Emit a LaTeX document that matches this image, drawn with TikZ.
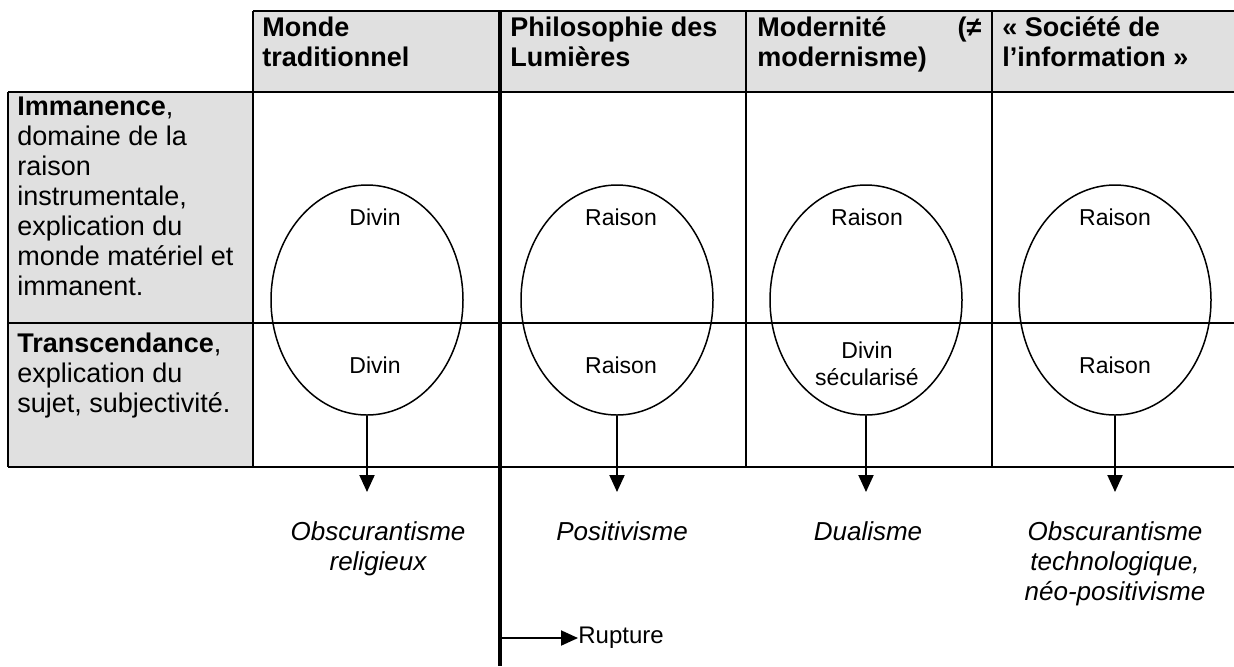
\documentclass[tikz,border=0pt]{standalone}
\usepackage{fontspec}
\setmainfont{Liberation Sans}
\usetikzlibrary{shapes.geometric,arrows.meta}
\definecolor{cellgray}{RGB}{224,224,224}
\tikzset{
  rule/.style={line width=1pt},
  bigrule/.style={line width=2.3pt},
  bubble/.style={draw, ellipse, line width=0.75pt, minimum width=96pt, minimum height=115pt, inner sep=0pt},
  arr/.style={line width=1pt, -{Triangle[width=7.5pt,length=8.5pt]}},
  headtxt/.style={anchor=base west, inner sep=0pt, align=left, font=\fontsize{13.5}{15}\selectfont\bfseries},
  rowtxt/.style={anchor=base west, inner sep=0pt, align=left, font=\fontsize{13.5}{15}\selectfont},
  eltxt/.style={anchor=base, inner sep=0pt, align=center, font=\fontsize{11.5}{13.5}\selectfont},
  outtxt/.style={anchor=base, inner sep=0pt, align=center, font=\fontsize{13}{15}\selectfont\itshape},
}
\begin{document}
\begin{tikzpicture}[x=0.5pt,y=-0.5pt]
\useasboundingbox (0,0) rectangle (1234,666);
% fills
\fill[cellgray] (253,11) rectangle (1234,92);
\fill[cellgray] (8,92) rectangle (253,467);
% table rules
\draw[rule] (253,11) -- (1234,11);
\draw[rule] (8,92) -- (1234,92);
\draw[rule] (8,323) -- (1234,323);
\draw[rule] (8,467) -- (1234,467);
\draw[rule] (8,92) -- (8,467);
\draw[rule] (253,11) -- (253,467);
\draw[rule] (746,11) -- (746,467);
\draw[rule] (992,11) -- (992,467);
\draw[bigrule] (500,11) -- (500,666);
% headers
\node[headtxt] (h1) at (262,66) {Monde\\traditionnel};
\node[headtxt] (h2) at (510,66) {Philosophie des\\Lumières};
\node[headtxt, text width=112pt] (h3) at (757,36) {Modernité\hfill(≠\\modernisme)};
\node[headtxt] (h4) at (1002,66) {« Société de\\l’information »};
% row headers
\node[rowtxt] (r1) at (17,295) {\textbf{Immanence},\\domaine de la\\raison\\instrumentale,\\explication du\\monde matériel et\\immanent.};
\node[rowtxt] (r2) at (17,412) {\textbf{Transcendance},\\explication du\\sujet, subjectivité.};
% ellipses
\node[bubble] (e1) at (367,300) {};
\node[bubble] (e2) at (617,300) {};
\node[bubble] (e3) at (866,300) {};
\node[bubble] (e4) at (1115,300) {};
% ellipse texts
\node[eltxt] (u1) at (375,225) {Divin};
\node[eltxt] (u2) at (621,225) {Raison};
\node[eltxt] (u3) at (867,225) {Raison};
\node[eltxt] (u4) at (1115,225) {Raison};
\node[eltxt] (l1) at (375,373) {Divin};
\node[eltxt] (l2) at (621,373) {Raison};
\node[eltxt] (l3) at (867,385) {Divin\\sécularisé};
\node[eltxt] (l4) at (1115,373) {Raison};
% arrow ends
\coordinate (a1) at (367,492);
\coordinate (a2) at (617,492);
\coordinate (a3) at (866,492);
\coordinate (a4) at (1115,492);
\draw[arr] (e1.south) -- (a1);
\draw[arr] (e2.south) -- (a2);
\draw[arr] (e3.south) -- (a3);
\draw[arr] (e4.south) -- (a4);
% outcomes
\node[outtxt] (o1) at (378,570) {Obscurantisme\\religieux};
\node[outtxt] (o2) at (622,540) {Positivisme};
\node[outtxt] (o3) at (868,540) {Dualisme};
\node[outtxt] (o4) at (1115,600) {Obscurantisme\\technologique,\\néo-positivisme};
% rupture
\coordinate (r0) at (501,638);
\node[anchor=west, inner sep=0pt, font=\fontsize{12}{14}\selectfont] (rup) at (578,638) {Rupture};
\draw[arr] (r0) -- (rup.west);
\end{tikzpicture}
\end{document}
